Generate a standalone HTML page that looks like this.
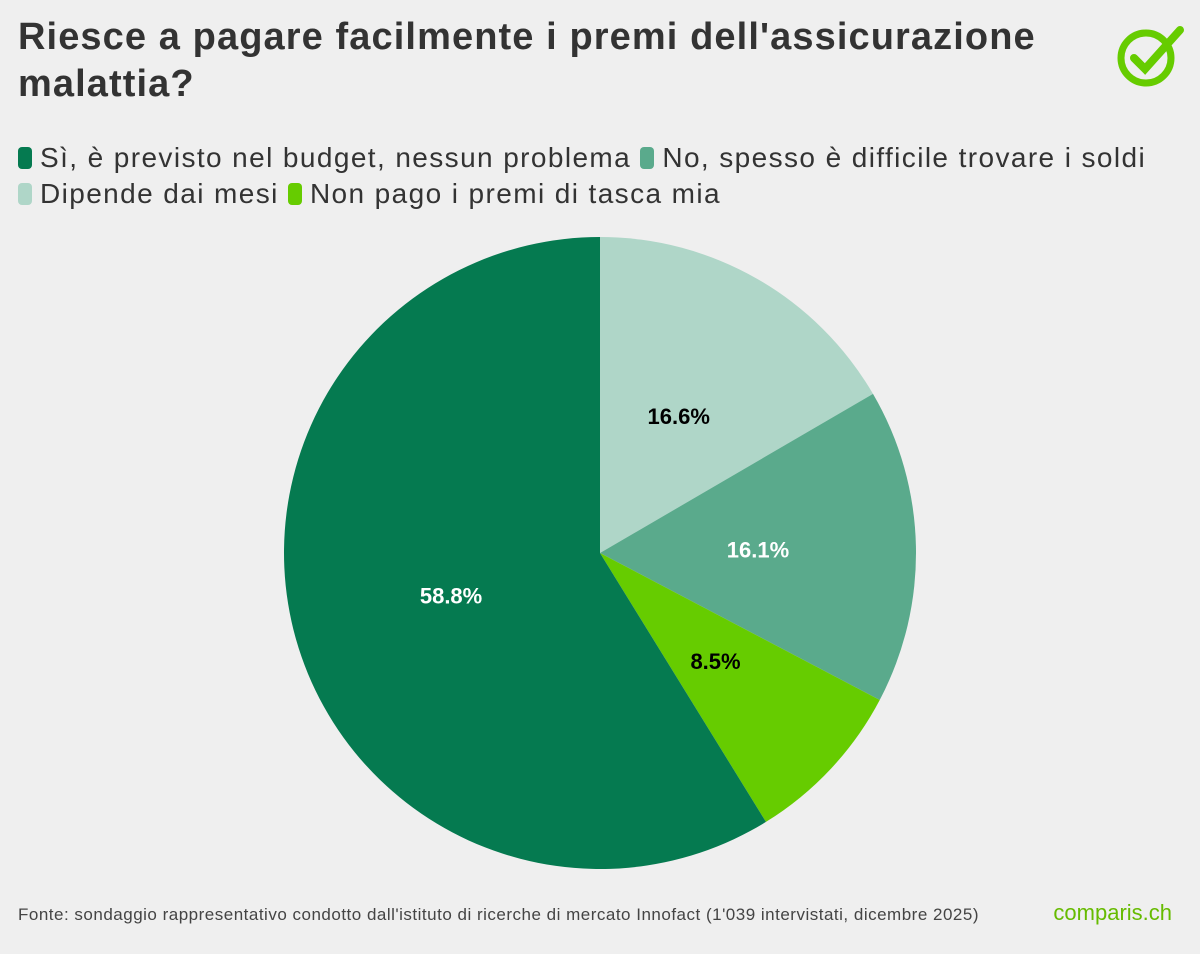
<!DOCTYPE html>
<html><head><meta charset="utf-8"><style>
body{margin:0;background:#efefef;font-family:"Liberation Sans",sans-serif;}
#wrap{position:relative;width:1200px;height:954px;overflow:hidden;}
h1{position:absolute;left:18px;top:14px;margin:0;font-size:38px;line-height:47px;font-weight:bold;color:#333;width:1090px;letter-spacing:1.1px}
.leg{position:absolute;left:18px;font-size:28px;color:#333;white-space:nowrap;letter-spacing:1.4px}
.sw{display:inline-block;width:14px;height:22px;border-radius:4px;margin-right:8px;vertical-align:-2px}
#src{position:absolute;left:18px;top:905px;font-size:17px;color:#444;letter-spacing:0.5px;white-space:nowrap}
#brand{position:absolute;right:28px;top:900px;font-size:22px;color:#66bb00}
</style></head><body><div id="wrap">
<h1>Riesce a pagare facilmente i premi dell'assicurazione malattia?</h1>
<svg style="position:absolute;left:1112px;top:20px" width="76" height="70"><circle cx="34" cy="38" r="25" fill="none" stroke="#66cc00" stroke-width="7"/><path d="M22 38 L33 49 L68 10" fill="none" stroke="#66cc00" stroke-width="8" stroke-linecap="round"/></svg>
<div class="leg" style="top:142px"><span><span class="sw" style="background:#057a50"></span>Sì, è previsto nel budget, nessun problema</span> <span><span class="sw" style="background:#5aaa8c"></span>No, spesso è difficile trovare i soldi</span></div>
<div class="leg" style="top:178px"><span><span class="sw" style="background:#afd6c8"></span>Dipende dai mesi</span> <span><span class="sw" style="background:#66cc00"></span>Non pago i premi di tasca mia</span></div>
<svg id="pie" width="1200" height="954" style="position:absolute;left:0;top:0"></svg>
<div id="src">Fonte: sondaggio rappresentativo condotto dall'istituto di ricerche di mercato Innofact (1'039 intervistati, dicembre 2025)</div>
<div id="brand">comparis.ch</div>
</div>
<script>
const categories=["Dipende dai mesi","No, spesso è difficile trovare i soldi","Non pago i premi di tasca mia","Sì, è previsto nel budget, nessun problema"];
const values=[16.6,16.1,8.5,58.8];
const labels=["16.6%","16.1%","8.5%","58.8%"];
const colors=["#afd6c8","#5aaa8c","#66cc00","#057a50"];
const labelColors=["#000","#fff","#000","#fff"];
const svg=document.getElementById('pie');const NS="http://www.w3.org/2000/svg";
const cx=600,cy=553,R=316;const total=values.reduce((a,b)=>a+b,0);
function pt(a,r){return [cx+r*Math.sin(a),cy-r*Math.cos(a)];}
let a0=0;
values.forEach((v,i)=>{const a1=a0+v/total*2*Math.PI;const p0=pt(a0,R),p1=pt(a1,R);
const p=document.createElementNS(NS,'path');
p.setAttribute('d',`M${cx},${cy} L${p0[0]},${p0[1]} A${R},${R} 0 ${a1-a0>Math.PI?1:0} 1 ${p1[0]},${p1[1]} Z`);
p.setAttribute('fill',colors[i]);


svg.appendChild(p);
const m=(a0+a1)/2;const lp=pt(m,i==3?R*0.49:R*0.5);
const t=document.createElementNS(NS,'text');t.setAttribute('x',lp[0]);t.setAttribute('y',lp[1]+8);
t.setAttribute('text-anchor','middle');t.setAttribute('font-size','22');t.setAttribute('font-weight','bold');
t.setAttribute('fill',labelColors[i]);t.textContent=labels[i];


svg.appendChild(t);a0=a1;});
</script></body></html>
